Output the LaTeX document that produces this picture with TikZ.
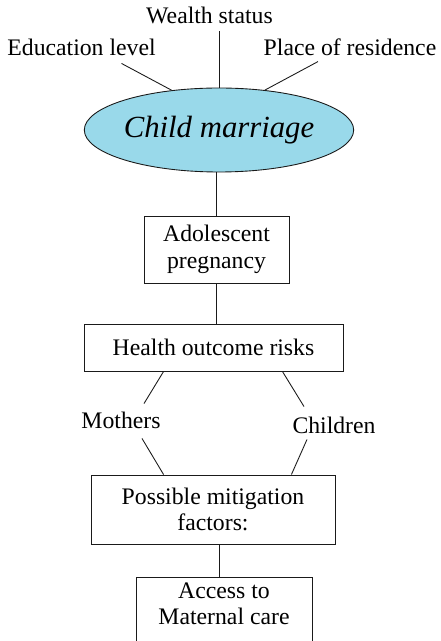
\documentclass[tikz,border=0pt]{standalone}
\usepackage{fontspec}
\setmainfont{Liberation Serif}
\usetikzlibrary{shapes.geometric,calc}
\definecolor{azulElipse}{HTML}{99D9EA}
\definecolor{negroL}{HTML}{1A1A1A}
\tikzset{
  cajaTexto/.style={draw=negroL, line width=0.5pt, rectangle, align=center,
    inner sep=0pt, font=\fontsize{13.5}{15}\selectfont},
  etiquetaF/.style={inner sep=1pt, font=\fontsize{13.5}{15}\selectfont},
  lineaF/.style={draw=negroL, line width=0.5pt},
}

\begin{document}
\begin{tikzpicture}[x=0.02cm,y=-0.02cm]
  \useasboundingbox (0,0) rectangle (440,641);
  \clip (0,0) rectangle (440,641);
  % factores de arriba
  \node[etiquetaF] (wealth) at (209.5,15) {Wealth status};
  \node[etiquetaF] (edu)    at (81.5,47)  {Education level};
  \node[etiquetaF] (place)  at (350,47)   {Place of residence};
  % elipse central
  \node[ellipse, draw=negroL, fill=azulElipse, line width=0.5pt, inner sep=0pt,
        minimum width=5.04cm, minimum height=1.68cm,
        font=\fontsize{17.5}{20}\selectfont\itshape] (child) at (219,130) {Child marriage};
  % cajas
  \node[cajaTexto, minimum width=2.9cm, minimum height=1.34cm] (adol) at (216.5,249.5) {Adolescent\\pregnancy};
  \node[cajaTexto, minimum width=5.18cm, minimum height=0.94cm] (health) at (213.5,347.5) {Health outcome risks};
  \node[etiquetaF] (moth) at (121,420) {Mothers};
  \node[etiquetaF] (chil) at (334,425) {Children};
  \node[cajaTexto, minimum width=4.88cm, minimum height=1.38cm] (mitig) at (213,509.5) {Possible mitigation\\factors:};
  \node[cajaTexto, minimum width=3.52cm, anchor=north, inner ysep=3pt,
        text depth=1.5cm] (access) at (224,577) {Access to\\Maternal care};
  % lineas
  \draw[lineaF] (child.north) -- ($(child.north |- wealth.south)+(0,5)$);
  \draw[lineaF] (child.140) -- ($(edu.south)+(40,6)$);
  \draw[lineaF] (child.41) -- ($(place.south)+(-32,4)$);
  \draw[lineaF] (adol.north) -- (adol.north |- child.south);
  \draw[lineaF] (adol.south) -- (adol.south |- health.north);
  \draw[lineaF] ($(health.south west)+(80,0)$) -- ($(moth.north)+(23,-6)$);
  \draw[lineaF] ($(moth.south)+(21,8)$) -- ($(mitig.north west)+(73,0)$);
  \draw[lineaF] ($(health.south east)+(-61,0)$) -- ($(chil.north)+(-30,-8)$);
  \draw[lineaF] ($(chil.south)+(-27,4)$) -- ($(mitig.north east)+(-44,0)$);
  \draw[lineaF] ($(access.north)+(-5,0)$) coordinate (accTop) -- (accTop |- mitig.south);
\end{tikzpicture}
\end{document}
